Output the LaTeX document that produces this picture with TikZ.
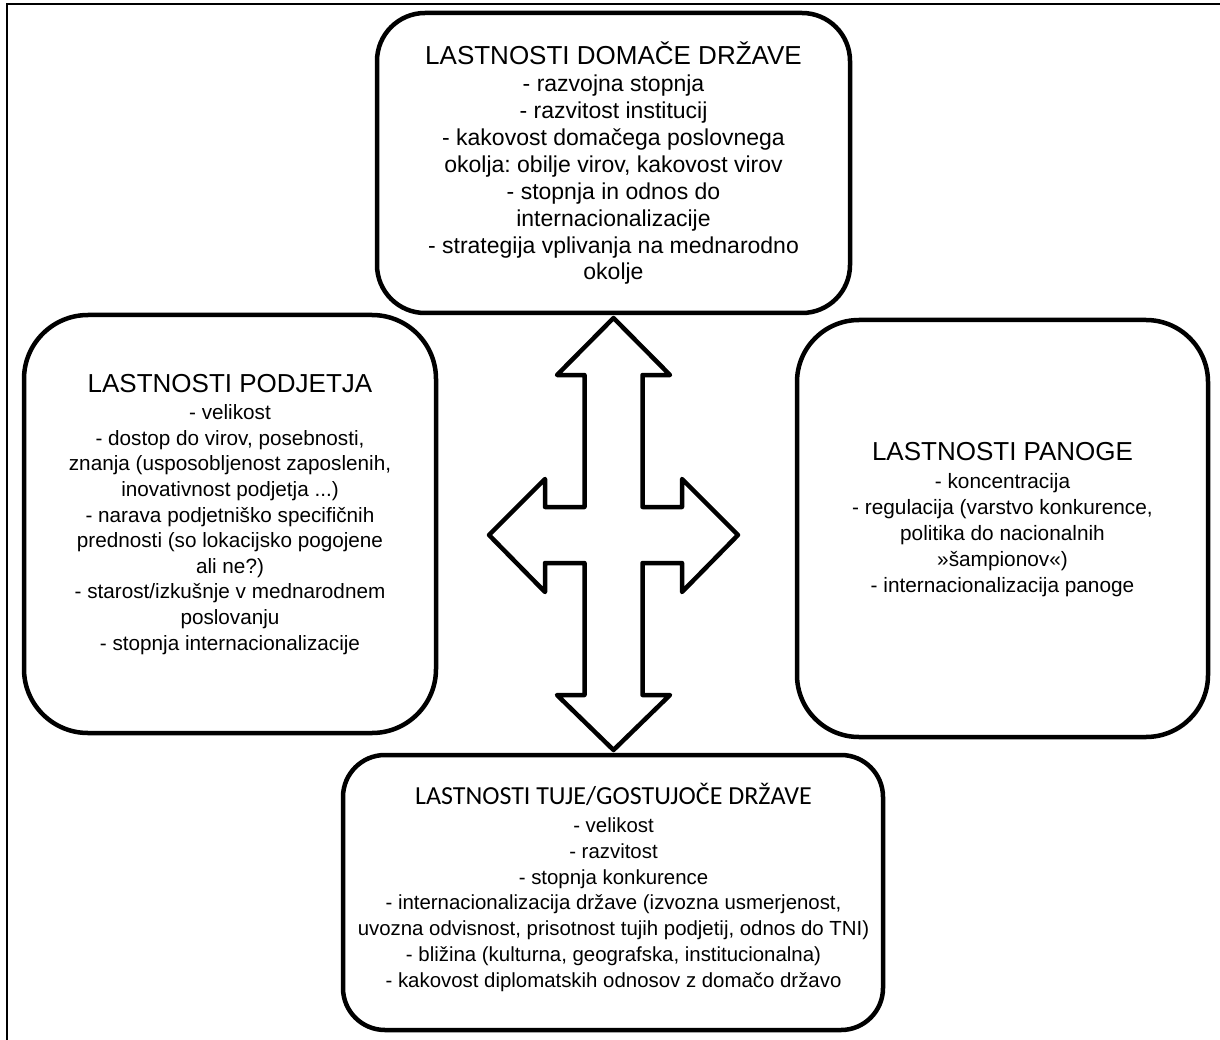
\documentclass[tikz,border=0pt]{standalone}
\usepackage{fontspec}
\setmainfont{Liberation Sans}
\newfontfamily\calibrifont{Carlito}
\frenchspacing
\begin{document}
\begin{tikzpicture}[x=1pt,y=-1pt,
  boxstyle/.style={draw=black, line width=4.5pt, rounded corners=#1, inner sep=0pt, fill=white},
  txt/.style={anchor=base, inner sep=0pt, align=center},
  crossarrow/.style={draw=black, line width=4.5pt, line join=round, fill=white},
  framestyle/.style={draw=black, line width=1.6pt}
]
\useasboundingbox (0,0) rectangle (1220,1040);
% outer frame (only top and left sides visible)
\draw[framestyle] (7,1045) -- (7,4) -- (1225,4);

% boxes
\node[boxstyle=48pt, minimum width=473pt, minimum height=300pt] (dom) at (613.5,163) {};
\node[boxstyle=64pt, minimum width=412pt, minimum height=418pt] (podj) at (230,524) {};
\node[boxstyle=62pt, minimum width=411pt, minimum height=417pt] (pan) at (1002.5,528.5) {};
\node[boxstyle=42pt, minimum width=540pt, minimum height=275pt] (tuje) at (613,892.5) {};

% texts (anchored at the baseline of their last line)
\node[txt, font=\fontsize{23}{26.9}\selectfont\frenchspacing] (domtxt) at (613.5,280)
 {{\fontsize{26}{26.9}\selectfont LASTNOSTI DOMAČE DRŽAVE}\\
  - razvojna stopnja\\
  - razvitost institucij\\
  - kakovost domačega poslovnega\\
  okolja: obilje virov, kakovost virov\\
  - stopnja in odnos do\\
  internacionalizacije\\
  - strategija vplivanja na mednarodno\\
  okolje};

\node[txt, font=\fontsize{20.7}{25.6}\selectfont\frenchspacing] (podjtxt) at (230,650)
 {{\fontsize{26}{25.6}\selectfont LASTNOSTI PODJETJA}\\[1.4pt]
  - velikost\\
  - dostop do virov, posebnosti,\\
  znanja (usposobljenost zaposlenih,\\
  inovativnost podjetja ...)\\
  - narava podjetniško specifičnih\\
  prednosti (so lokacijsko pogojene\\
  ali ne?)\\
  - starost/izkušnje v mednarodnem\\
  poslovanju\\
  - stopnja internacionalizacije};

\node[txt, font=\fontsize{20.8}{26}\selectfont\frenchspacing] (pantxt) at (1002.5,592)
 {{\fontsize{26}{26}\selectfont LASTNOSTI PANOGE}\\[2pt]
  - koncentracija\\
  - regulacija (varstvo konkurence,\\
  politika do nacionalnih\\
  »šampionov«)\\
  - internacionalizacija panoge};

\node[txt, font=\fontsize{20.4}{25.7}\selectfont\frenchspacing] (tujetxt) at (613.5,987)
 {{\calibrifont\fontsize{26}{25.7}\selectfont LASTNOSTI TUJE/GOSTUJOČE DRŽAVE}\\[2.3pt]
  - velikost\\
  - razvitost\\
  - stopnja konkurence\\
  - internacionalizacija države (izvozna usmerjenost,\\
  uvozna odvisnost, prisotnost tujih podjetij, odnos do TNI)\\
  - bližina (kulturna, geografska, institucionalna)\\
  - kakovost diplomatskih odnosov z domačo državo};

% four-headed arrow
\draw[crossarrow] (613.5,318) -- (670,375) -- (642.5,375) -- (642.5,507) -- (682,507) -- (682,479)
  -- (738,535) -- (682,592) -- (682,563) -- (642.5,563) -- (642.5,695) -- (670,695)
  -- (613.5,750) -- (557,695) -- (584.5,695) -- (584.5,563) -- (545,563) -- (545,592)
  -- (489,535) -- (545,479) -- (545,507) -- (584.5,507) -- (584.5,375) -- (557,375) -- cycle;
\end{tikzpicture}
\end{document}
